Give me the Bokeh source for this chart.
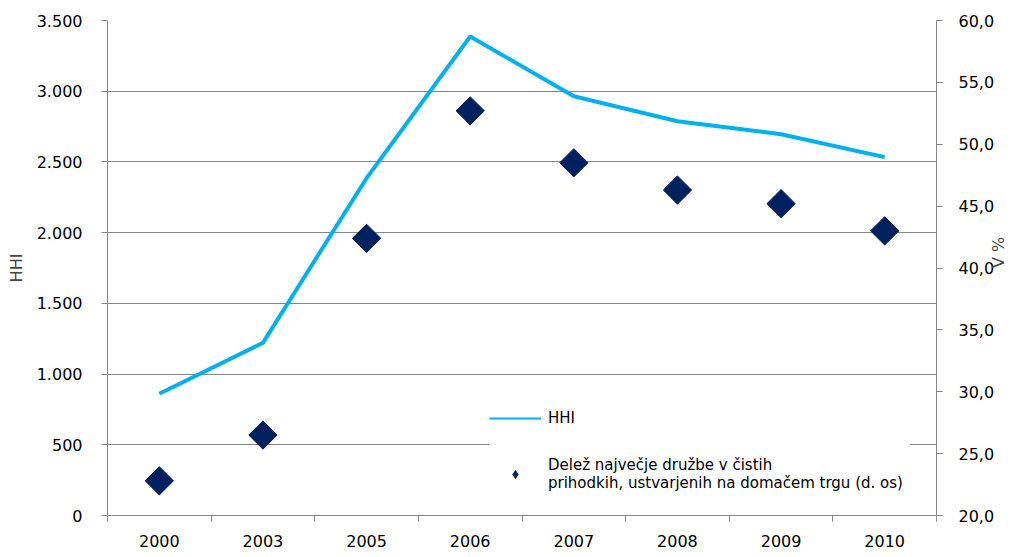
import numpy as np
from bokeh.plotting import figure
from bokeh.models import (Range1d, LinearAxis, FixedTicker, CustomJSTickFormatter,
                          Legend, LegendItem, ColumnDataSource)
from bokeh.embed import file_html
from bokeh.resources import INLINE

years = ["2000", "2003", "2005", "2006", "2007", "2008", "2009", "2010"]
hhi = [861, 1221, 2385, 3387, 2964, 2788, 2696, 2534]
share = [22.8, 26.5, 42.4, 52.7, 48.5, 46.3, 45.2, 43.0]

left_ticks = [0, 500, 1000, 1500, 2000, 2500, 3000, 3500]
right_ticks = [20, 25, 30, 35, 40, 45, 50, 55, 60]

FONT = "DejaVu Sans"
GRAY = "#868686"
FS = "16px"

xpos = [i + 0.5 for i in range(len(years))]
src = ColumnDataSource(dict(x=xpos, hhi=hhi, share=share))

p = figure(width=1020, height=549, output_backend="svg", toolbar_location=None,
           x_range=Range1d(0, len(years)), y_range=Range1d(0, 3500),
           min_border_left=107, min_border_right=79, min_border_top=20, min_border_bottom=33)
p.outline_line_color = None
p.background_fill_color = "white"
p.border_fill_color = "white"

p.extra_y_ranges = {"pct": Range1d(20, 60)}

# x axis
xa = p.xaxis[0]
xa.ticker = FixedTicker(ticks=xpos, minor_ticks=list(range(len(years) + 1)))
xa.major_label_overrides = {x: y for x, y in zip(xpos, years)}
xa.major_tick_line_color = None
xa.major_tick_out = 0
xa.major_tick_in = 0
xa.minor_tick_out = 6
xa.minor_tick_in = 0
xa.minor_tick_line_color = GRAY
xa.axis_line_color = GRAY
xa.major_label_standoff = 13
xa.major_label_text_font = FONT
xa.major_label_text_font_size = FS
xa.major_label_text_color = "#000000"

# left axis
ya = p.yaxis[0]
ya.ticker = FixedTicker(ticks=left_ticks)
ya.formatter = CustomJSTickFormatter(code="""
const t = Math.round(tick);
if (t >= 1000) { return Math.floor(t/1000) + '.' + String(t % 1000).padStart(3, '0'); }
return String(t);
""")
ya.axis_line_color = GRAY
ya.major_tick_line_color = GRAY
ya.major_tick_out = 6
ya.major_tick_in = 0
ya.minor_tick_line_color = None
ya.major_label_standoff = 19
ya.major_label_text_font = FONT
ya.major_label_text_font_size = FS
ya.major_label_text_color = "#000000"
ya.axis_label = "HHI"
ya.axis_label_text_font = FONT
ya.axis_label_text_font_size = FS
ya.axis_label_text_font_style = "normal"
ya.axis_label_standoff = 8

# right axis
ra = LinearAxis(y_range_name="pct", ticker=FixedTicker(ticks=right_ticks))
ra.formatter = CustomJSTickFormatter(code="return tick.toFixed(1).replace('.', ',');")
ra.axis_line_color = GRAY
ra.major_tick_line_color = GRAY
ra.major_tick_out = 6
ra.major_tick_in = 0
ra.minor_tick_line_color = None
ra.major_label_standoff = 16
ra.major_label_text_font = FONT
ra.major_label_text_font_size = FS
ra.major_label_text_color = "#000000"
ra.axis_label = "V %"
ra.axis_label_text_font = FONT
ra.axis_label_text_font_size = FS
ra.axis_label_text_font_style = "normal"
ra.axis_label_standoff = 1
ra.axis_label_orientation = np.pi / 2
p.add_layout(ra, "right")

p.xgrid.grid_line_color = None
p.ygrid.grid_line_color = GRAY
p.ygrid.grid_line_width = 1
p.ygrid.ticker = FixedTicker(ticks=left_ticks)

LINE_C = "#00B0F0"
DOT_C = "#002060"
r_line = p.line("x", "hhi", source=src, line_color=LINE_C, line_width=4)
r_pts = p.scatter("x", "share", source=src, y_range_name="pct", marker="square",
                  size=20, angle=np.pi / 4, fill_color=DOT_C, line_color=DOT_C)

# legend-only renderers (NaN data, nothing drawn in the plot) for the legend samples
nan_src = ColumnDataSource(dict(x=[np.nan], y=[np.nan]))
lg_line = p.line("x", "y", source=nan_src, line_color=LINE_C, line_width=2)
lg_pts = p.scatter("x", "y", source=nan_src, marker="diamond", size=14,
                   fill_color=DOT_C, line_color=DOT_C)

legend = Legend(items=[
    LegendItem(label="HHI", renderers=[lg_line], index=0),
    LegendItem(label="Delež največje družbe v čistih\nprihodkih, ustvarjenih na domačem trgu (d. os)",
               renderers=[lg_pts], index=0),
], location=(382, 23))
legend.label_text_font = FONT
legend.label_text_font_size = "15px"
legend.label_text_color = "#000000"
legend.label_text_line_height = 1.3
legend.glyph_width = 52
legend.label_standoff = 7
legend.label_width = 362
legend.padding = 22
legend.spacing = 28
legend.border_line_color = None
legend.background_fill_color = "white"
legend.background_fill_alpha = 1.0
p.add_layout(legend, "center")

open("out.html", "w").write(file_html(p, INLINE))
